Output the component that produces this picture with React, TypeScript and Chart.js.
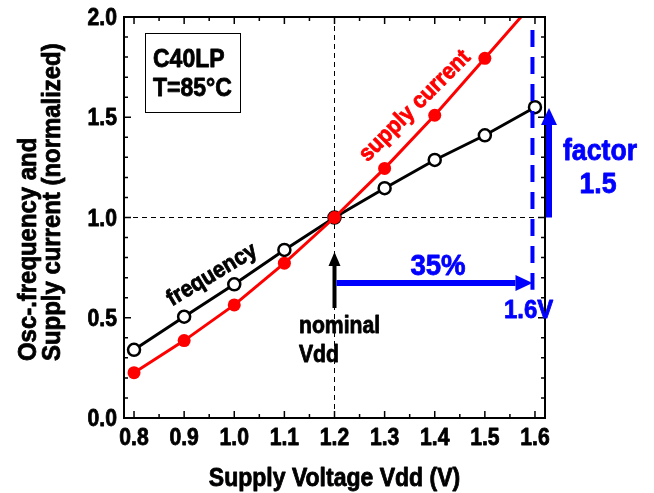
import React, { useEffect, useRef } from 'react';
import { Chart, registerables } from 'chart.js';

Chart.register(...registerables);

// Supply voltage sweep (V)
const VDD = [0.8, 0.9, 1.0, 1.1, 1.2, 1.3, 1.4, 1.5, 1.6];
// Ring-oscillator frequency, normalized to the nominal supply
const FREQUENCY = [0.34, 0.505, 0.667, 0.838, 1.0, 1.146, 1.287, 1.41, 1.55];
// Supply current, normalized to the nominal supply
const SUPPLY_CURRENT = [0.226, 0.386, 0.564, 0.772, 1.0, 1.245, 1.51, 1.794, 2.08];

const X_TICKS = [0.8, 0.9, 1.0, 1.1, 1.2, 1.3, 1.4, 1.5, 1.6];
const X_TICK_LABELS = ['0.8', '0.9', '1.0', '1.1', '1.2', '1.3', '1.4', '1.5', '1.6'];
const X_MINOR = [0.85, 0.95, 1.05, 1.15, 1.25, 1.35, 1.45, 1.55];
const Y_TICKS = [0, 0.5, 1.0, 1.5, 2.0];
const Y_TICK_LABELS = ['0.0', '0.5', '1.0', '1.5', '2.0'];
const Y_MINOR = [0.1, 0.2, 0.3, 0.4, 0.6, 0.7, 0.8, 0.9, 1.1, 1.2, 1.3, 1.4, 1.6, 1.7, 1.8, 1.9];

const X_TITLE = 'Supply Voltage Vdd (V)';
const Y_TITLE = ['Osc-.frequency and', 'Supply current (normalized)'];
const INFO_LINES = ['C40LP', 'T=85°C'];

// Operating points marked on the plot
const NOMINAL_VDD = 1.2;
const NOMINAL_LEVEL = 1.0;
const MAX_VDD = 1.595;
const SPAN_LEVEL = 0.673;
const FACTOR_TOP = 1.546;

const FONT = '"Liberation Sans", Arial, sans-serif';
const SX = 0.92;
const BLUE = '#0000ff';
const RED = '#ff0000';

type Ctx = CanvasRenderingContext2D;

function text(
  ctx: Ctx, s: string, x: number, y: number, size: number, color: string,
  align: CanvasTextAlign = 'left', rot = 0, baseline: CanvasTextBaseline = 'alphabetic'
) {
  ctx.save();
  ctx.translate(x, y);
  if (rot) ctx.rotate(rot);
  ctx.scale(SX, 1);
  ctx.font = `bold ${size}px ${FONT}`;
  ctx.fillStyle = color;
  ctx.strokeStyle = color;
  ctx.lineWidth = 0.8;
  ctx.lineJoin = 'round';
  ctx.textAlign = align;
  ctx.textBaseline = baseline;
  ctx.fillText(s, 0, 0);
  ctx.strokeText(s, 0, 0);
  ctx.restore();
}

function arrow(
  ctx: Ctx, x1: number, y1: number, x2: number, y2: number, color: string,
  shaft: number, headLen: number, headHalf: number
) {
  const a = Math.atan2(y2 - y1, x2 - x1);
  const bx = x2 - headLen * Math.cos(a);
  const by = y2 - headLen * Math.sin(a);
  ctx.save();
  ctx.strokeStyle = color;
  ctx.lineWidth = shaft;
  ctx.lineCap = 'butt';
  ctx.beginPath();
  ctx.moveTo(x1, y1);
  ctx.lineTo(bx, by);
  ctx.stroke();
  ctx.fillStyle = color;
  ctx.beginPath();
  ctx.moveTo(x2, y2);
  ctx.lineTo(bx + headHalf * Math.sin(a), by - headHalf * Math.cos(a));
  ctx.lineTo(bx - headHalf * Math.sin(a), by + headHalf * Math.cos(a));
  ctx.closePath();
  ctx.fill();
  ctx.restore();
}

const framePlugin = {
  id: 'frame',
  beforeDatasetsDraw(chart: any) {
    const { ctx, chartArea: a, scales } = chart;
    const xs = scales.x, ys = scales.y;
    const cx = xs.getPixelForValue(NOMINAL_VDD);
    const cy = ys.getPixelForValue(NOMINAL_LEVEL);
    ctx.save();
    ctx.strokeStyle = '#000';
    ctx.lineWidth = 1;
    ctx.setLineDash([5, 4]);
    ctx.beginPath();
    ctx.moveTo(cx, a.top);
    ctx.lineTo(cx, a.bottom);
    ctx.moveTo(a.left, cy);
    ctx.lineTo(a.right, cy);
    ctx.stroke();
    ctx.restore();
  },
  afterDatasetsDraw(chart: any) {
    const { ctx, chartArea: a, scales } = chart;
    const xs = scales.x, ys = scales.y;
    const px = (v: number) => xs.getPixelForValue(v);
    const py = (v: number) => ys.getPixelForValue(v);

    // axis ticks pointing inward on all four sides
    ctx.save();
    ctx.strokeStyle = '#000';
    ctx.lineWidth = 1.5;
    ctx.beginPath();
    const vTick = (v: number, len: number) => {
      const x = px(v);
      ctx.moveTo(x, a.bottom); ctx.lineTo(x, a.bottom - len);
      ctx.moveTo(x, a.top); ctx.lineTo(x, a.top + len);
    };
    const hTick = (v: number, len: number) => {
      const y = py(v);
      ctx.moveTo(a.left, y); ctx.lineTo(a.left + len, y);
      ctx.moveTo(a.right, y); ctx.lineTo(a.right - len, y);
    };
    X_TICKS.forEach((v) => vTick(v, 7));
    X_MINOR.forEach((v) => vTick(v, 4));
    Y_TICKS.forEach((v) => hTick(v, 7));
    Y_MINOR.forEach((v) => hTick(v, 4));
    ctx.stroke();
    ctx.lineWidth = 2;
    ctx.strokeRect(a.left, a.top, a.right - a.left, a.bottom - a.top);
    ctx.restore();

    // tick labels
    X_TICKS.forEach((v, i) => text(ctx, X_TICK_LABELS[i], px(v), a.bottom + 27, 23, '#000', 'center'));
    Y_TICKS.forEach((v, i) => text(ctx, Y_TICK_LABELS[i], a.left - 7, py(v) + 8, 23, '#000', 'right'));

    // axis titles
    text(ctx, X_TITLE, (a.left + a.right) / 2, 486, 25, '#000', 'center');
    text(ctx, Y_TITLE[0], 36, 361, 26, '#000', 'left', -Math.PI / 2);
    text(ctx, Y_TITLE[1], 60, 361, 26, '#000', 'left', -Math.PI / 2);

    // info box
    ctx.save();
    ctx.strokeStyle = '#000';
    ctx.lineWidth = 1;
    ctx.strokeRect(145.5, 33.5, 95, 79);
    ctx.restore();
    text(ctx, INFO_LINES[0], 153, 67, 25, '#000');
    text(ctx, INFO_LINES[1], 153, 96, 25, '#000');

    // curve labels
    text(ctx, 'frequency', 212, 275, 23, '#000', 'center', -31 * Math.PI / 180, 'middle');
    text(ctx, 'supply current', 415, 106, 23, RED, 'center', -45 * Math.PI / 180, 'middle');

    // nominal supply marker
    const nx = px(NOMINAL_VDD);
    arrow(ctx, nx, 308, nx, 252, '#000', 4, 14, 6);
    text(ctx, 'nominal', 299, 333, 23, '#000');
    text(ctx, 'Vdd', 299, 362, 23, '#000');

    // maximum supply: dashed limit, span arrow and gain arrow
    const mx = px(MAX_VDD);
    ctx.save();
    ctx.strokeStyle = BLUE;
    ctx.lineWidth = 4;
    ctx.setLineDash([17, 10]);
    ctx.beginPath();
    ctx.moveTo(mx, py(1.935));
    ctx.lineTo(mx, py(0.64));
    ctx.stroke();
    ctx.restore();

    const sy = py(SPAN_LEVEL);
    arrow(ctx, nx + 2, sy, mx, sy, BLUE, 6, 17, 8);
    text(ctx, '35%', 438, 275, 30, BLUE, 'center');
    text(ctx, '1.6V', 504, 318, 26, BLUE);

    const fx = a.right + 4;
    arrow(ctx, fx, py(NOMINAL_LEVEL), fx, py(FACTOR_TOP), BLUE, 6, 17, 8);
    text(ctx, 'factor', 600, 160, 29, BLUE, 'center');
    text(ctx, '1.5', 598, 193, 29, BLUE, 'center');
  },
};

export default function App() {
  const ref = useRef<HTMLCanvasElement | null>(null);

  useEffect(() => {
    const canvas = ref.current;
    if (!canvas) return;
    const chart = new Chart(canvas, {
      type: 'line',
      data: {
        datasets: [
          {
            label: 'supply current',
            data: VDD.map((v, i) => ({ x: v, y: SUPPLY_CURRENT[i] })),
            borderColor: RED,
            backgroundColor: RED,
            borderWidth: 3,
            pointRadius: 6.5,
            pointBorderWidth: 0,
            pointBackgroundColor: RED,
            clip: 0,
          },
          {
            label: 'frequency',
            data: VDD.map((v, i) => ({ x: v, y: FREQUENCY[i] })),
            borderColor: '#000',
            backgroundColor: '#fff',
            borderWidth: 3,
            pointRadius: 6,
            pointBorderWidth: 2.5,
            pointBorderColor: '#000',
            pointBackgroundColor: '#fff',
          },
        ],
      },
      options: {
        responsive: false,
        animation: false,
        devicePixelRatio: 1,
        layout: { padding: { left: 124, top: 17, right: 109, bottom: 75 } },
        plugins: { legend: { display: false }, tooltip: { enabled: false } },
        scales: {
          x: {
            type: 'linear', min: 0.78, max: 1.62, display: false,
            afterBuildTicks: (s: any) => { s.ticks = X_TICKS.map((value) => ({ value })); },
          },
          y: {
            type: 'linear', min: 0, max: 2, display: false,
            afterBuildTicks: (s: any) => { s.ticks = Y_TICKS.map((value) => ({ value })); },
          },
        },
      },
      plugins: [framePlugin],
    });
    return () => chart.destroy();
  }, []);

  return (
    <div style={{ position: 'fixed', left: 0, top: 0, width: 654, height: 493, background: '#fff' }}>
      <canvas ref={ref} width={654} height={493} style={{ display: 'block' }} />
    </div>
  );
}
